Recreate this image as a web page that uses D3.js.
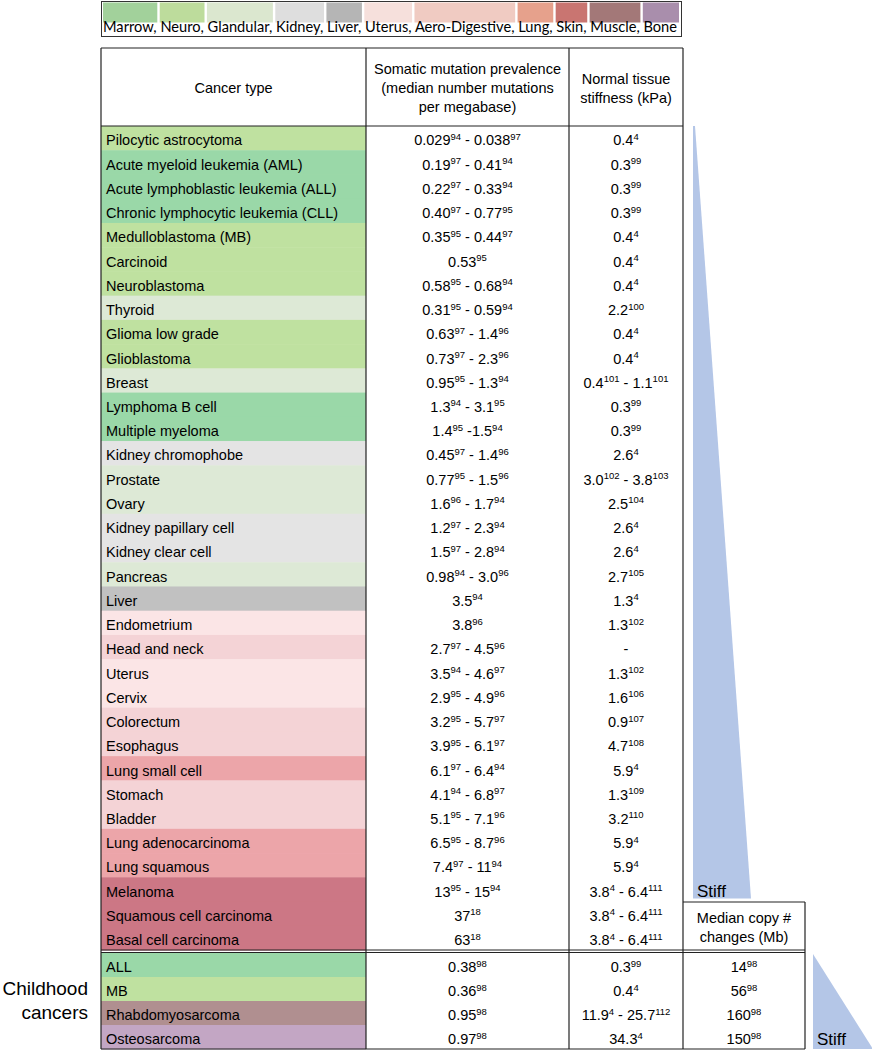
<!DOCTYPE html>
<html>
<head>
<meta charset="utf-8">
<script src="https://cdn.jsdelivr.net/npm/d3@7"></script>
<style>
  body { margin: 0; background: #fff; }
  svg text { font-family: "Liberation Sans", Arial, sans-serif; fill: #000; }
</style>
</head>
<body>
<div id="chart"></div>
<script>
// tissue groups, legend order
var tissueGroups = ["Marrow", "Neuro", "Glandular", "Kidney", "Liver", "Uterus", "Aero-Digestive", "Lung", "Skin", "Muscle", "Bone"];
var rowColors    = ["#9ad8a8", "#bfe1a0", "#dde9d6", "#e4e4e4", "#c1c1c1", "#fbe5e6", "#f4d3d6", "#eca5a9", "#cc7785", "#b08f90", "#c3a6c4"];
var legendColors = ["#a2d19b", "#bddc9c", "#dbe7cf", "#dedede", "#b5b5b5", "#f6e0dc", "#f0cbc2", "#e6a18c", "#c97571", "#a37878", "#a98eac"];

// adult cancers
var cancerTypes = ["Pilocytic astrocytoma", "Acute myeloid leukemia (AML)", "Acute lymphoblastic leukemia (ALL)",
  "Chronic lymphocytic leukemia (CLL)", "Medulloblastoma (MB)", "Carcinoid", "Neuroblastoma", "Thyroid",
  "Glioma low grade", "Glioblastoma", "Breast", "Lymphoma B cell", "Multiple myeloma", "Kidney chromophobe",
  "Prostate", "Ovary", "Kidney papillary cell", "Kidney clear cell", "Pancreas", "Liver", "Endometrium",
  "Head and neck", "Uterus", "Cervix", "Colorectum", "Esophagus", "Lung small cell", "Stomach", "Bladder",
  "Lung adenocarcinoma", "Lung squamous", "Melanoma", "Squamous cell carcinoma", "Basal cell carcinoma"];
var cancerGroups = ["Neuro", "Marrow", "Marrow", "Marrow", "Neuro", "Neuro", "Neuro", "Glandular",
  "Neuro", "Neuro", "Glandular", "Marrow", "Marrow", "Kidney", "Glandular", "Glandular", "Kidney", "Kidney",
  "Glandular", "Liver", "Uterus", "Aero-Digestive", "Uterus", "Uterus", "Aero-Digestive", "Aero-Digestive",
  "Lung", "Aero-Digestive", "Aero-Digestive", "Lung", "Lung", "Skin", "Skin", "Skin"];
// "^" marks a reference number (superscript)
var mutationPrevalence = ["0.029^94 - 0.038^97", "0.19^97 - 0.41^94", "0.22^97 - 0.33^94", "0.40^97 - 0.77^95",
  "0.35^95 - 0.44^97", "0.53^95", "0.58^95 - 0.68^94", "0.31^95 - 0.59^94", "0.63^97 - 1.4^96", "0.73^97 - 2.3^96",
  "0.95^95 - 1.3^94", "1.3^94 - 3.1^95", "1.4^95 -1.5^94", "0.45^97 - 1.4^96", "0.77^95 - 1.5^96", "1.6^96 - 1.7^94",
  "1.2^97 - 2.3^94", "1.5^97 - 2.8^94", "0.98^94 - 3.0^96", "3.5^94", "3.8^96", "2.7^97 - 4.5^96", "3.5^94 - 4.6^97",
  "2.9^95 - 4.9^96", "3.2^95 - 5.7^97", "3.9^95 - 6.1^97", "6.1^97 - 6.4^94", "4.1^94 - 6.8^97", "5.1^95 - 7.1^96",
  "6.5^95 - 8.7^96", "7.4^97 - 11^94", "13^95 - 15^94", "37^18", "63^18"];
var tissueStiffness = ["0.4^4", "0.3^99", "0.3^99", "0.3^99", "0.4^4", "0.4^4", "0.4^4", "2.2^100", "0.4^4", "0.4^4",
  "0.4^101 - 1.1^101", "0.3^99", "0.3^99", "2.6^4", "3.0^102 - 3.8^103", "2.5^104", "2.6^4", "2.6^4", "2.7^105",
  "1.3^4", "1.3^102", "-", "1.3^102", "1.6^106", "0.9^107", "4.7^108", "5.9^4", "1.3^109", "3.2^110", "5.9^4",
  "5.9^4", "3.8^4 - 6.4^111", "3.8^4 - 6.4^111", "3.8^4 - 6.4^111"];

// childhood cancers
var childTypes = ["ALL", "MB", "Rhabdomyosarcoma", "Osteosarcoma"];
var childGroups = ["Marrow", "Neuro", "Muscle", "Bone"];
var childMutation = ["0.38^98", "0.36^98", "0.95^98", "0.97^98"];
var childStiffness = ["0.3^99", "0.4^4", "11.9^4 - 25.7^112", "34.3^4"];
var childCopyNumber = ["14^98", "56^98", "160^98", "150^98"];

var W = 872, H = 1050;
var svg = d3.select("#chart").append("svg").attr("width", W).attr("height", H);

var rowColor = d3.scaleOrdinal().domain(tissueGroups).range(rowColors);
var legendColor = d3.scaleOrdinal().domain(tissueGroups).range(legendColors);

// column edges: type | mutation | stiffness | copy number
var colEdges = [101, 366, 569, 683, 805];
var headTop = 48, headBottom = 126, adultBottom = 950, childTop = 953, tableBottom = 1049;

var yAdult = d3.scaleBand().domain(d3.range(cancerTypes.length)).range([headBottom, adultBottom]);
var yChild = d3.scaleBand().domain(d3.range(childTypes.length)).range([childTop, tableBottom]);

//-------Legend
var legendText = tissueGroups.join(", ");
var lgLeft = 101, lgRight = 681, lgTop = 1, lgBottom = 36;
var lg = svg.append("g");
var lt = lg.append("text")
  .attr("x", lgLeft + 2).attr("y", 31.5)
  .style("font-family", "Lato, 'Open Sans', sans-serif")
  .style("font-size", "16px")
  .text(legendText);
// measure natural lengths, then stretch to the box width
var natural = lt.node().getComputedTextLength();
var targetLen = lgRight - lgLeft - 6;
var k = targetLen / natural;
var offsets = [], pos = 0;
tissueGroups.forEach(function(g, i){
  var start = pos;
  var end = start + g.length + (i < tissueGroups.length - 1 ? 1 : 0); // include comma
  offsets.push([start, end]);
  pos = start + g.length + 2;
});
function charX(idx){
  if (idx <= 0) return 0;
  return lt.node().getSubStringLength(0, idx);
}
var bounds = offsets.map(function(o){ return [charX(o[0]) * k, charX(o[1]) * k]; });
lt.attr("textLength", targetLen).attr("lengthAdjust", "spacingAndGlyphs");
var swatchX = [];
bounds.forEach(function(b, i){
  var x0 = i === 0 ? lgLeft + 2 : (bounds[i - 1][1] + b[0]) / 2 + lgLeft + 2 + 1.2;
  var x1 = i === bounds.length - 1 ? lgRight - 2 : (b[1] + bounds[i + 1][0]) / 2 + lgLeft + 2 - 1.2;
  swatchX.push([x0, x1]);
});
lg.selectAll("rect.sw").data(tissueGroups).enter().append("rect")
  .attr("class", "sw")
  .attr("x", function(d, i){ return swatchX[i][0]; })
  .attr("width", function(d, i){ return swatchX[i][1] - swatchX[i][0]; })
  .attr("y", lgTop + 1.5).attr("height", 20)
  .attr("fill", function(d){ return legendColor(d); });
lg.append("rect").attr("x", lgLeft + 0.5).attr("y", lgTop + 0.5)
  .attr("width", lgRight - lgLeft).attr("height", lgBottom - lgTop)
  .attr("fill", "none").attr("stroke", "#333").attr("stroke-width", 1);
lt.raise();

//-------Stiffness triangles (behind the table lines)
var tri1Top = yAdult(0), tri1Bottom = yAdult(32) - 3;
var tri1Left = colEdges[3] + 10;
svg.append("path")
  .attr("d", d3.line()([[tri1Left, tri1Top], [tri1Left + 2, tri1Top], [tri1Left + 58, tri1Bottom], [tri1Left, tri1Bottom]]))
  .attr("fill", "#b4c6e7");
svg.append("text").attr("x", tri1Left + 4).attr("y", tri1Bottom - 2)
  .style("font-size", "17px").text("Stiff");

var tri2Left = colEdges[4] + 8;
svg.append("path")
  .attr("d", d3.line()([[tri2Left, childTop + 1], [tri2Left + 60, tableBottom], [tri2Left, tableBottom]]))
  .attr("fill", "#b4c6e7");
svg.append("text").attr("x", tri2Left + 4).attr("y", tableBottom - 4)
  .style("font-size", "17px").text("Stiff");

//-------Row backgrounds
svg.selectAll("rect.adult").data(cancerGroups).enter().append("rect")
  .attr("class", "adult")
  .attr("x", colEdges[0]).attr("width", colEdges[1] - colEdges[0])
  .attr("y", function(d, i){ return yAdult(i); })
  .attr("height", yAdult.bandwidth() + 0.5)
  .attr("fill", function(d){ return rowColor(d); });
svg.selectAll("rect.child").data(childGroups).enter().append("rect")
  .attr("class", "child")
  .attr("x", colEdges[0]).attr("width", colEdges[1] - colEdges[0])
  .attr("y", function(d, i){ return yChild(i); })
  .attr("height", yChild.bandwidth() + 0.5)
  .attr("fill", function(d){ return rowColor(d); });

//-------Cell text with superscript references
function cellText(x, y, str, anchor){
  var t = svg.append("text").attr("x", x).attr("y", y)
    .attr("text-anchor", anchor || "middle")
    .style("font-size", "14.5px");
  var parts = str.split(/(\^\d+)/).filter(function(p){ return p; });
  if (parts.length === 1 && parts[0][0] !== "^"){
    t.text(parts[0]);
    return t;
  }
  var lift = 0;
  parts.forEach(function(p){
    if (p[0] === "^"){
      t.append("tspan").attr("dy", -5.5 - lift).style("font-size", "9.5px").text(p.slice(1));
      lift = -5.5;
    } else {
      t.append("tspan").attr("dy", -lift).text(p);
      lift = 0;
    }
  });
  return t;
}
var mid = function(a, b){ return (colEdges[a] + colEdges[b]) / 2; };
var baseOff = 19.4;

cancerTypes.forEach(function(name, i){
  var y = yAdult(i) + baseOff;
  cellText(colEdges[0] + 5, y, name, "start");
  cellText(mid(1, 2), y, mutationPrevalence[i]);
  cellText(mid(2, 3), y, tissueStiffness[i]);
});
childTypes.forEach(function(name, i){
  var y = yChild(i) + baseOff;
  cellText(colEdges[0] + 5, y, name, "start");
  cellText(mid(1, 2), y, childMutation[i]);
  cellText(mid(2, 3), y, childStiffness[i]);
  cellText(mid(3, 4), y, childCopyNumber[i]);
});

//-------Headers
function headLines(cx, lines, y0){
  lines.forEach(function(s, i){
    svg.append("text").attr("x", cx).attr("y", y0 + i * 19)
      .attr("text-anchor", "middle").style("font-size", "14.5px").text(s);
  });
}
headLines(mid(0, 1), ["Cancer type"], 93);
headLines(mid(1, 2), ["Somatic mutation prevalence", "(median number mutations", "per megabase)"], 74);
headLines(mid(2, 3), ["Normal tissue", "stiffness (kPa)"], 84);
headLines(mid(3, 4), ["Median copy #", "changes (Mb)"], 923);

var copyHeadTop = 902;

// Childhood label
svg.append("text").attr("x", 88).attr("y", 995).attr("text-anchor", "end")
  .style("font-size", "19px").text("Childhood");
svg.append("text").attr("x", 88).attr("y", 1019).attr("text-anchor", "end")
  .style("font-size", "19px").text("cancers");

//-------Grid lines
var lines = svg.append("g").attr("stroke", "#222").attr("stroke-width", 1.2).attr("fill", "none");
function hline(x0, x1, y){ lines.append("line").attr("x1", x0).attr("x2", x1).attr("y1", y).attr("y2", y); }
function vline(x, y0, y1){ lines.append("line").attr("x1", x).attr("x2", x).attr("y1", y0).attr("y2", y1); }
hline(colEdges[0], colEdges[3], headTop);
hline(colEdges[0], colEdges[3], headBottom);
hline(colEdges[3], colEdges[4], copyHeadTop);
hline(colEdges[0], colEdges[4], adultBottom);
hline(colEdges[0], colEdges[4], childTop - 0.5);
hline(colEdges[0], colEdges[4], tableBottom);
vline(colEdges[0], headTop, tableBottom);
vline(colEdges[1], headTop, tableBottom);
vline(colEdges[2], headTop, tableBottom);
vline(colEdges[3], headTop, tableBottom);
vline(colEdges[4], copyHeadTop, tableBottom);
</script>
</body>
</html>
